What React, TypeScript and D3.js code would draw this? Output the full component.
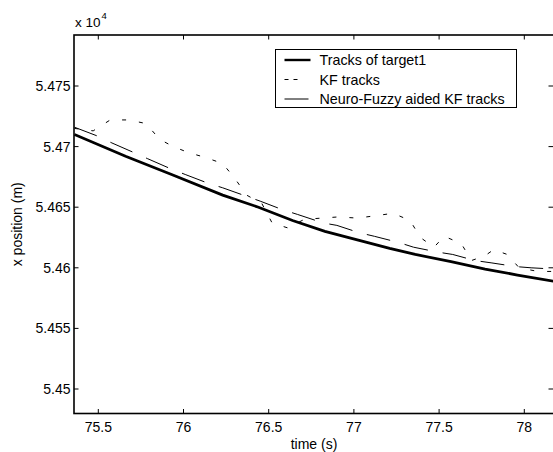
import React, { useEffect, useRef } from 'react';
import * as d3 from 'd3';

// thick solid line: true target track
const targetTime = [75.36, 75.66, 75.93, 76.23, 76.44, 76.64, 76.83, 77.02, 77.21, 77.36, 77.57, 77.77, 77.96, 78.17];
const targetPos = [5.4710, 5.4692, 5.4677, 5.4660, 5.4650, 5.4639, 5.4630, 5.4623, 5.4616, 5.4611, 5.4605, 5.4599, 5.4594, 5.4589];

// dotted line: KF estimate
const kfTime = [75.36, 75.47, 75.57, 75.68, 75.78, 75.86, 75.94, 76.03, 76.13, 76.23, 76.30, 76.37, 76.46, 76.52, 76.61, 76.71, 76.81, 76.91, 77.02, 77.13, 77.23, 77.33, 77.39, 77.47, 77.53, 77.63, 77.69, 77.77, 77.82, 77.90, 77.97, 78.08, 78.17];
const kfPos = [5.4715, 5.4713, 5.4722, 5.4722, 5.4719, 5.4706, 5.4700, 5.4695, 5.4691, 5.4686, 5.4674, 5.4660, 5.4653, 5.4637, 5.4633, 5.4640, 5.4641, 5.4642, 5.4641, 5.4643, 5.4645, 5.4639, 5.4625, 5.4617, 5.4626, 5.4620, 5.4606, 5.4610, 5.4615, 5.4611, 5.4600, 5.4597, 5.4597];

// dashed line: neuro-fuzzy aided KF
const nfTime = [75.36, 75.49, 75.58, 75.71, 75.79, 75.92, 76.01, 76.14, 76.23, 76.37, 76.45, 76.58, 76.67, 76.82, 76.90, 77.03, 77.12, 77.26, 77.35, 77.49, 77.58, 77.71, 77.81, 77.95, 78.04, 78.17];
const nfPos = [5.4716, 5.4709, 5.4703, 5.4695, 5.4690, 5.4682, 5.4677, 5.4670, 5.4666, 5.4659, 5.4655, 5.4648, 5.4644, 5.4637, 5.4635, 5.4629, 5.4626, 5.4621, 5.4617, 5.4613, 5.4611, 5.4606, 5.4604, 5.4601, 5.4600, 5.4599];

const xTicks = [75.5, 76, 76.5, 77, 77.5, 78];
const yTicks = [5.45, 5.455, 5.46, 5.465, 5.47, 5.475];
const legendLabels = ['Tracks of target1', 'KF tracks', 'Neuro-Fuzzy aided KF tracks'];

const W = 553;
const H = 452;
const FONT = '"Liberation Sans", Arial, Helvetica, sans-serif';

const App = () => {
    const svgRef = useRef(null);

    useEffect(() => {
        const svg = d3.select(svgRef.current);
        svg.selectAll('*').remove();

        const plot = { left: 74, right: 554, top: 35, bottom: 413.5 };

        const x = d3.scaleLinear().domain([75.5, 78]).range([98.3, 524.3]);
        const y = d3.scaleLinear().domain([5.45, 5.475]).range([389, 86]);

        svg.append('rect').attr('width', W).attr('height', H).attr('fill', '#fff');

        svg.append('defs').append('clipPath').attr('id', 'plotclip')
            .append('rect')
            .attr('x', plot.left).attr('y', plot.top)
            .attr('width', plot.right - plot.left).attr('height', plot.bottom - plot.top);

        const series = [
            { t: targetTime, v: targetPos, width: 2.8, dash: null },
            { t: kfTime, v: kfPos, width: 1, dash: '4 13' },
            { t: nfTime, v: nfPos, width: 1, dash: '24 15' },
        ];

        const line = d3.line().x(d => x(d[0])).y(d => y(d[1]));

        const g = svg.append('g').attr('clip-path', 'url(#plotclip)');
        series.forEach(s => {
            const pts = s.t.map((t, i) => [t, s.v[i]]);
            g.append('path')
                .datum(pts)
                .attr('d', line)
                .attr('fill', 'none')
                .attr('stroke', '#000')
                .attr('stroke-width', s.width)
                .attr('stroke-dasharray', s.dash);
        });

        // ticks (inward, on all four sides)
        const tl = 4.5;
        const ticks = svg.append('g').attr('stroke', '#000').attr('stroke-width', 1);
        xTicks.forEach(t => {
            ticks.append('line').attr('x1', x(t)).attr('x2', x(t)).attr('y1', plot.bottom).attr('y2', plot.bottom - tl);
            ticks.append('line').attr('x1', x(t)).attr('x2', x(t)).attr('y1', plot.top).attr('y2', plot.top + tl);
        });
        yTicks.forEach(t => {
            ticks.append('line').attr('x1', plot.left).attr('x2', plot.left + tl).attr('y1', y(t)).attr('y2', y(t));
            ticks.append('line').attr('x1', plot.right - 1).attr('x2', plot.right - 1 - tl).attr('y1', y(t)).attr('y2', y(t));
        });

        // axes box
        svg.append('rect')
            .attr('x', plot.left).attr('y', plot.top)
            .attr('width', plot.right - plot.left).attr('height', plot.bottom - plot.top)
            .attr('fill', 'none').attr('stroke', '#000').attr('stroke-width', 1.6);

        const txt = svg.append('g').attr('font-family', FONT).attr('font-size', 14).attr('fill', '#000');

        xTicks.forEach(t => {
            txt.append('text').attr('x', x(t)).attr('y', 432).attr('text-anchor', 'middle').text(d3.format('')(t));
        });
        yTicks.forEach(t => {
            txt.append('text').attr('x', 70.5).attr('y', y(t)).attr('dy', '0.36em').attr('text-anchor', 'end').text(d3.format('')(t));
        });

        txt.append('text').attr('x', (plot.left + plot.right) / 2).attr('y', 449).attr('text-anchor', 'middle').text('time (s)');
        txt.append('text')
            .attr('transform', `translate(22, ${(plot.top + plot.bottom) / 2}) rotate(-90)`)
            .attr('text-anchor', 'middle')
            .text('x position (m)');

        const expo = txt.append('text').attr('x', 75).attr('y', 27).attr('font-size', 13.5);
        expo.append('tspan').text('x 10');
        expo.append('tspan').attr('dx', 1).attr('dy', -8).attr('font-size', 9.5).text('4');

        // legend
        const legend = svg.append('g').attr('transform', 'translate(275.5, 49.5)');
        legend.append('rect').attr('width', 241).attr('height', 58)
            .attr('fill', '#fff').attr('stroke', '#000').attr('stroke-width', 1);
        const legendStyle = [
            { width: 2.4, dash: null, x2: 35 },
            { width: 1, dash: '4 5', x2: 22 },
            { width: 1, dash: '24 15', x2: 35 },
        ];
        legendLabels.forEach((label, i) => {
            const ly = 10.5 + i * 19.5;
            legend.append('line')
                .attr('x1', 9).attr('x2', legendStyle[i].x2).attr('y1', ly).attr('y2', ly)
                .attr('stroke', '#000').attr('stroke-width', legendStyle[i].width)
                .attr('stroke-dasharray', legendStyle[i].dash);
            legend.append('text')
                .attr('x', 44).attr('y', ly + 5)
                .attr('font-family', FONT).attr('font-size', 14.3)
                .text(label);
        });
    }, []);

    return (
        <svg ref={svgRef} width={W} height={H} style={{ position: 'absolute', left: 0, top: 0 }}></svg>
    );
};

export default App;
